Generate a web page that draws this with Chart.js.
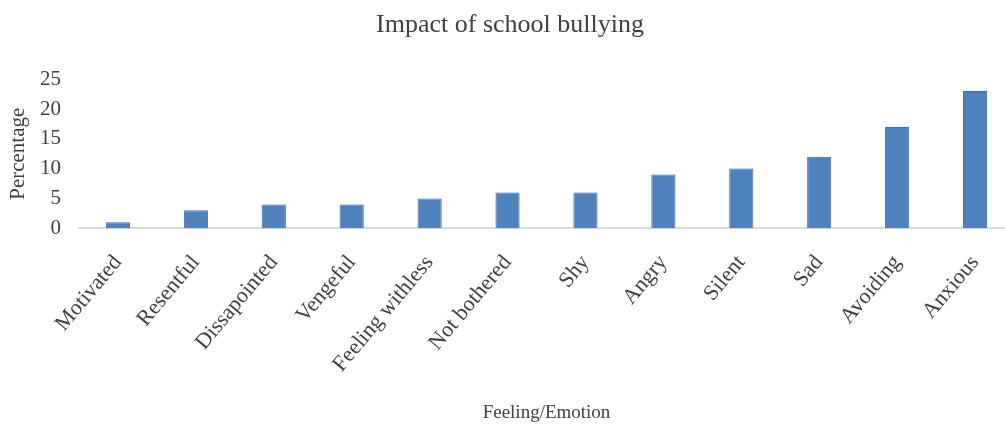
<!DOCTYPE html>
<html lang="en">
<head>
  <meta charset="UTF-8">
  <title>Impact of school bullying</title>
  <script src="https://cdn.jsdelivr.net/npm/chart.js"></script>
  <style>
    html, body {
      margin: 0;
      padding: 0;
      background: #fff;
      overflow: hidden;
    }
    #wrap {
      width: 1018px;
      height: 430px;
    }
  </style>
</head>
<body>
  <div id="wrap"><canvas id="chart"></canvas></div>
  <script>
    const feelings = ["Motivated", "Resentful", "Dissapointed", "Vengeful", "Feeling withless",
      "Not bothered", "Shy", "Angry", "Silent", "Sad", "Avoiding", "Anxious"];
    const percentages = [1, 3, 4, 4, 5, 6, 6, 9, 10, 12, 17, 23];
    const yTicks = [0, 5, 10, 15, 20, 25];

    const serif = "'Liberation Serif', 'Times New Roman', serif";
    const textColor = "#404040";

    new Chart(document.getElementById("chart").getContext("2d"), {
      type: "bar",
      data: {
        labels: feelings,
        datasets: [{
          data: percentages,
          backgroundColor: "#4f81bd",
          borderColor: "#3e6ea8",
          borderWidth: 1,
          barPercentage: 0.31,
          categoryPercentage: 1
        }]
      },
      options: {
        responsive: true,
        maintainAspectRatio: false,
        animation: false,
        layout: { padding: { left: 6, right: 4, top: 10, bottom: 6 } },
        plugins: {
          legend: { display: false },
          tooltip: { enabled: false },
          title: {
            display: true,
            text: "Impact of school bullying",
            color: textColor,
            font: { family: serif, size: 26, weight: "normal" },
            padding: { top: 0, bottom: 38 }
          }
        },
        scales: {
          x: {
            grid: { display: false, drawTicks: false },
            border: { color: "#d9d9d9", width: 2 },
            ticks: {
              color: textColor,
              font: { family: serif, size: 22 },
              maxRotation: 50,
              minRotation: 50,
              autoSkip: false,
              padding: 22
            },
            afterFit: axis => { axis.paddingLeft = 0; axis.paddingRight = 0; },
            title: {
              display: true,
              text: "Feeling/Emotion",
              color: textColor,
              font: { family: serif, size: 19 },
              padding: { top: 2, bottom: 0 }
            }
          },
          y: {
            min: 0,
            max: 25,
            afterBuildTicks: axis => { axis.ticks = yTicks.map(v => ({ value: v })); },
            // fixed width so the plot starts where the reference's does
            afterFit: axis => { axis.width = 73; },
            grid: { display: false, drawTicks: false },
            border: { display: false },
            ticks: {
              color: textColor,
              font: { family: serif, size: 21 },
              padding: 18
            },
            title: {
              display: true,
              text: "Percentage",
              color: textColor,
              font: { family: serif, size: 21 },
              padding: { top: 0, bottom: 8 }
            }
          }
        }
      }
    });
  </script>
</body>
</html>
